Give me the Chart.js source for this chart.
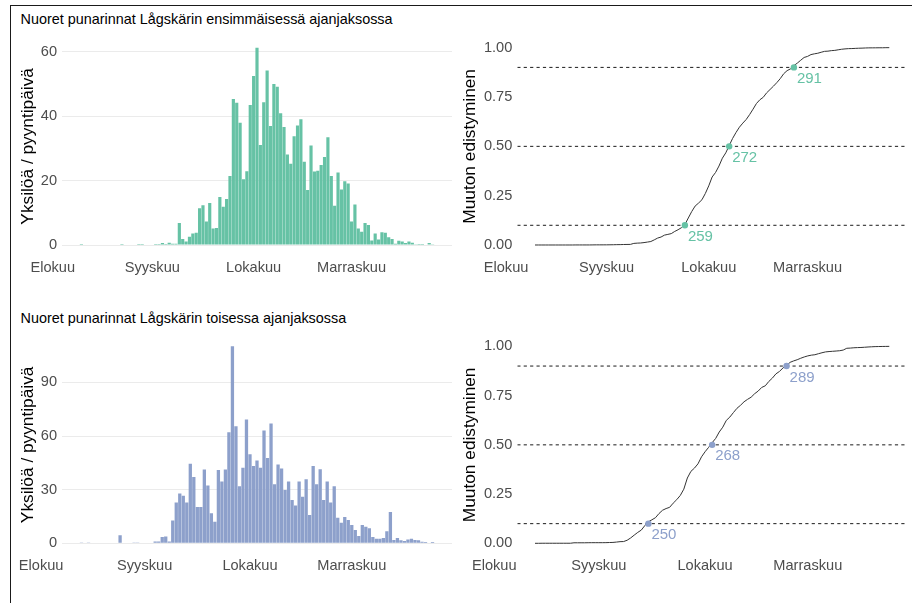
<!DOCTYPE html>
<html>
<head>
<meta charset="utf-8">
<script src="https://cdn.jsdelivr.net/npm/chart.js@4.4.1/dist/chart.umd.min.js"></script>
<style>
html, body { margin: 0; padding: 0; background: #fff; }
body { width: 912px; height: 603px; position: relative; overflow: hidden; font-family: "Liberation Sans", Arial, sans-serif; }
#frame { position: absolute; left: 10px; top: 5px; width: 920px; height: 620px; border-top: 1px solid #1a1a1a; border-left: 1px solid #1a1a1a; }
.title { position: absolute; left: 20.6px; font-size: 14.4px; line-height: 16px; color: #000; white-space: nowrap; }
canvas { position: absolute; }
</style>
</head>
<body>
<div id="frame"></div>
<div class="title" style="top:10.7px">Nuoret punarinnat Lågskärin ensimmäisessä ajanjaksossa</div>
<div class="title" style="top:309.7px">Nuoret punarinnat Lågskärin toisessa ajanjaksossa</div>
<canvas id="bar1" width="448" height="280" style="left:12px;top:20px"></canvas>
<canvas id="cum1" width="456" height="280" style="left:456px;top:20px"></canvas>
<canvas id="bar2" width="448" height="283" style="left:12px;top:320px"></canvas>
<canvas id="cum2" width="456" height="283" style="left:456px;top:320px"></canvas>
<script>
// first period, day of year 215..319
var firstDay1 = 215;
var counts1 = [
	0.3, 0, 0, 0, 0, 0, 0, 0, 0, 0, 0, 0, 0.3, 0, 0, 0, 0, 0.3, 0.3, 0, 0,
	0.2, 0.3, 0.3, 0.6, 0.3, 0.7, 0.4, 0.4,
	6.8, 1.9, 1.1, 2.6, 3.6, 3.8, 11.4, 12.3, 7.3, 13.0, 5.1, 5.3, 14.9, 11.9, 14.3, 21.4,
	45.3, 44.1, 37.9, 20.4, 22.9, 43.4, 52.4, 61.2, 31.0, 44.3, 54.1, 36.9, 49.9, 49.1, 40.9, 36.6,
	28.1, 25.2, 33.7, 37.1, 39.0, 25.8, 17.1, 30.9, 22.8, 23.0, 24.8, 27.3, 33.4, 21.4, 12.2, 22.5,
	17.2, 19.8, 19.1, 7.3, 12.6, 5.1, 4.1, 6.8, 6.2, 1.4, 3.6, 1.7, 4.0, 3.8, 2.4, 1.9,
	0.4, 1.3, 1.1, 0.6, 1.1, 0.7, 0.1, 0.3, 0.3, 0, 0.6, 0.1
];
var qDays1 = [259, 272, 291];

// second period, day of year 218..318
var firstDay2 = 218;
var counts2 = [
	0.5, 0, 0.5, 0, 0, 0, 0, 0, 0, 0, 0, 4.6, 0, 0, 0, 0.5, 0.5, 0, 0, 0,
	0.4, 1.1, 1.1, 3.5, 3.9, 1.1, 12.8, 22.9, 27.9, 26.6, 22.9, 44.5,
	37.1, 20.3, 20.3, 41.3, 32.4, 16.8, 12.1, 41.0, 34.6, 41.3, 62.2, 110.2,
	65.5, 32.0, 42.3, 69.3, 49.9, 43.2, 46.4, 42.3, 63.1, 47.7, 67.0, 33.1, 44.1, 41.9, 29.8, 34.6,
	24.2, 21.2, 34.6, 26.1, 35.9, 15.8, 43.2, 33.0, 41.5, 24.2, 34.6, 22.9, 32.0, 14.3, 11.5, 14.7,
	13.0, 10.2, 7.4, 4.1, 10.2, 9.3, 8.4, 3.5, 2.6, 2.6, 3.0, 6.7, 17.5, 1.9, 3.0, 1.7,
	1.3, 2.2, 2.6, 1.9, 1.7, 0.9, 0.7, 0.4, 0.7
];
var qDays2 = [250, 268, 289];

var qLevels = [0.1, 0.5, 0.9];
var monthTicks = [206.5, 236, 266, 295];
var monthLabels = ['Elokuu', 'Syyskuu', 'Lokakuu', 'Marraskuu'];
var yTicks1 = [0, 20, 40, 60];
var yTicks2 = [0, 30, 60, 90];
var cumTicks = [0, 0.25, 0.5, 0.75, 1];

Chart.defaults.font.family = '"Liberation Sans", Arial, sans-serif';

var tickFont = { size: 14.6 };
var tickColor = '#4d4d4d';

function dayRange(first, n) {
	var d = [];
	for (var i = 0; i < n; i++) d.push(first + i);
	return d;
}

function cumulative(counts) {
	var total = counts.reduce(function (a, b) { return a + b; }, 0);
	var run = 0;
	return counts.map(function (c) { run += c; return run / total; });
}

// canvas box and wanted plot area, both in page pixels
function areaLayout(cv, area) {
	return {
		padding: { left: 0, top: area.t - cv.top, right: cv.left + cv.width - area.r, bottom: 0 },
		yWidth: area.l - cv.left,
		xHeight: cv.top + cv.height - area.b
	};
}

function xScale(min, max, lay) {
	return {
		type: 'linear', min: min, max: max, offset: false,
		grid: { display: false, drawTicks: false }, border: { display: false },
		afterBuildTicks: function (s) { s.ticks = monthTicks.map(function (v) { return { value: v }; }); },
		afterFit: function (s) { s.height = lay.xHeight; },
		ticks: {
			autoSkip: false, maxRotation: 0, padding: 4.3, color: tickColor, font: tickFont,
			callback: function (v) { return monthLabels[monthTicks.indexOf(v)]; }
		}
	};
}

function yScale(min, max, ticks, lay, title, titlePad, fmt, grid) {
	return {
		min: min, max: max,
		grid: { display: grid, color: '#ebebeb', lineWidth: 1, drawTicks: false }, border: { display: false },
		afterBuildTicks: function (s) { s.ticks = ticks.map(function (v) { return { value: v }; }); },
		afterFit: function (s) { s.width = lay.yWidth; },
		ticks: { padding: 5, color: tickColor, font: tickFont, callback: fmt },
		title: { display: true, text: title, color: '#000', font: { size: 17.3 }, padding: { top: titlePad, bottom: 0 } }
	};
}

function barChart(id, firstDay, counts, color, yTicks, cv, area) {
	var days = dayRange(firstDay, counts.length);
	var lay = areaLayout(cv, area);
	var lo = days[0] - 0.5, hi = days[days.length - 1] + 0.5, ex = (hi - lo) * 0.05;
	var top = Math.max.apply(null, counts), ey = top * 0.05;
	return new Chart(document.getElementById(id), {
		type: 'bar',
		data: {
			datasets: [{
				data: days.map(function (d, i) { return { x: d, y: counts[i] }; }),
				backgroundColor: color, borderWidth: 0, barPercentage: 0.94, categoryPercentage: 1
			}]
		},
		options: {
			responsive: false, devicePixelRatio: 1, animation: false,
			layout: { padding: lay.padding },
			plugins: { legend: { display: false }, tooltip: { enabled: false } },
			scales: {
				x: xScale(lo - ex, hi + ex, lay),
				y: yScale(-ey, top + ey, yTicks, lay, 'Yksilöä / pyyntipäivä', 6.2, function (v) { return String(v); }, true)
			}
		}
	});
}

function cumChart(id, firstDay, counts, qDays, color, cv, area) {
	var days = dayRange(firstDay, counts.length);
	var cum = cumulative(counts);
	var lay = areaLayout(cv, area);
	var lo = days[0], hi = days[days.length - 1], ex = (hi - lo) * 0.05;
	var xmin = lo - ex, xmax = hi + ex;
	var sets = [
		{
			data: qDays.map(function (d, i) { return { x: d, y: qLevels[i] }; }),
			showLine: false, pointRadius: 3.2, pointBackgroundColor: color, pointBorderWidth: 0, order: 0
		},
		{
			data: days.map(function (d, i) { return { x: d, y: cum[i] }; }),
			borderColor: '#333', borderWidth: 1, pointRadius: 0, tension: 0, order: 1
		}
	];
	qLevels.forEach(function (l) {
		sets.push({
			data: [{ x: xmin, y: l }, { x: xmax, y: l }],
			borderColor: '#000', borderWidth: 0.9, borderDash: [3.2, 3.2], pointRadius: 0, order: 2
		});
	});
	var labels = {
		id: 'qlabels',
		afterDatasetsDraw: function (chart) {
			var ctx = chart.ctx;
			ctx.save();
			ctx.font = '15px "Liberation Sans", Arial, sans-serif';
			ctx.fillStyle = color;
			ctx.textAlign = 'left';
			ctx.textBaseline = 'alphabetic';
			qDays.forEach(function (d, i) {
				var x = chart.scales.x.getPixelForValue(d);
				var y = chart.scales.y.getPixelForValue(qLevels[i]);
				ctx.fillText(String(d), x + 3, y + 15.5);
			});
			ctx.restore();
		}
	};
	return new Chart(document.getElementById(id), {
		type: 'line',
		data: { datasets: sets },
		options: {
			responsive: false, devicePixelRatio: 1, animation: false,
			layout: { padding: lay.padding },
			plugins: { legend: { display: false }, tooltip: { enabled: false } },
			scales: {
				x: xScale(xmin, xmax, lay),
				y: yScale(-0.05, 1.05, cumTicks, lay, 'Muuton edistyminen', 3.7, function (v) { return v.toFixed(2); }, false)
			}
		},
		plugins: [labels]
	});
}

var topArea = { t: 37.8, b: 254.9 }, botArea = { t: 336.5, b: 553.2 };
var leftX = { l: 62, r: 452 }, rightX = { l: 517.3, r: 907 };

barChart('bar1', firstDay1, counts1, '#66c2a5', yTicks1,
	{ left: 12, top: 20, width: 448, height: 280 }, { l: leftX.l, r: leftX.r, t: topArea.t, b: topArea.b });
cumChart('cum1', firstDay1, counts1, qDays1, '#66c2a5',
	{ left: 456, top: 20, width: 456, height: 280 }, { l: rightX.l, r: rightX.r, t: topArea.t, b: topArea.b });
barChart('bar2', firstDay2, counts2, '#8da0cb', yTicks2,
	{ left: 12, top: 320, width: 448, height: 283 }, { l: leftX.l, r: leftX.r, t: botArea.t, b: botArea.b });
cumChart('cum2', firstDay2, counts2, qDays2, '#8da0cb',
	{ left: 456, top: 320, width: 456, height: 283 }, { l: rightX.l, r: rightX.r, t: botArea.t, b: botArea.b });
</script>
</body>
</html>
